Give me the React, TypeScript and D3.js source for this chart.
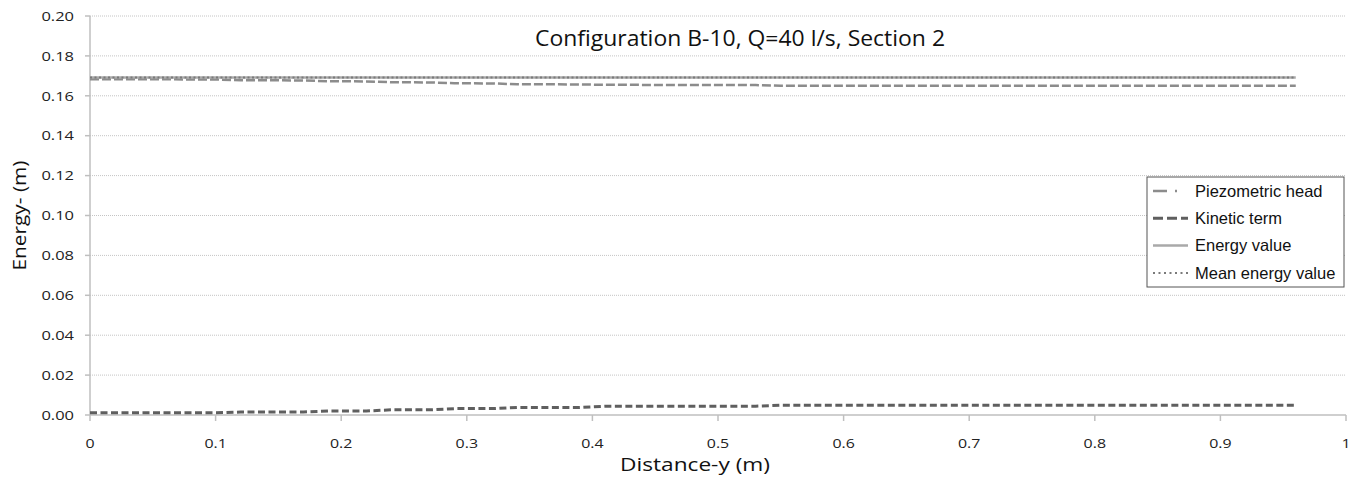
import React from 'react'
import * as d3 from 'd3'

// distance along the section (m)
const distance = [0, 0.1, 0.12, 0.17, 0.19, 0.22, 0.24, 0.27, 0.29, 0.32, 0.34, 0.39, 0.41, 0.53, 0.55, 0.96]
const piezometric = [0.1683, 0.1682, 0.1678, 0.1677, 0.1673, 0.1672, 0.1668, 0.1667, 0.1663, 0.1662, 0.1658, 0.1657, 0.1655, 0.1654, 0.165, 0.165]
const kinetic = [0.0011, 0.0011, 0.0015, 0.0015, 0.002, 0.002, 0.0026, 0.0026, 0.0032, 0.0032, 0.0038, 0.0038, 0.0044, 0.0044, 0.0049, 0.0049]
const energy = [0.1692, 0.1692, 0.1692, 0.1692, 0.1692, 0.1692, 0.1692, 0.1692, 0.1692, 0.1692, 0.1692, 0.1692, 0.1692, 0.1692, 0.1692, 0.1692]
const meanEnergy = 0.1692

const yTicks = [0, 0.02, 0.04, 0.06, 0.08, 0.1, 0.12, 0.14, 0.16, 0.18, 0.2]
const xTicks = [0, 0.1, 0.2, 0.3, 0.4, 0.5, 0.6, 0.7, 0.8, 0.9, 1]

const title = 'Configuration B-10, Q=40 l/s, Section 2'
const legendLabels = ['Piezometric head', 'Kinetic term', 'Energy value', 'Mean energy value']

const W = 1355
const H = 479
const labelFont = "'Open Sans', 'Noto Sans', sans-serif"

const styles = [
  { stroke: '#8c8c8c', width: 2.5, dash: '9,3' },
  { stroke: '#5f5f5f', width: 3, dash: '7,3.5' },
  { stroke: '#a9a9a9', width: 2.5, dash: '' },
  { stroke: '#7a7a7a', width: 2, dash: '2,2.5' },
]
const legendDash = ['14,8,2,20', '10,4', '', '2,3.5']

// text stretched horizontally like the picture's wide glyphs
function Wide(props: { x: number; y: number; sx: number; size: number; anchor?: string; children: React.ReactNode }) {
  return (
    <text
      transform={`translate(${props.x}, ${props.y}) scale(${props.sx}, 1)`}
      dy="0.35em"
      textAnchor={props.anchor ?? 'middle'}
      fontSize={props.size}
      fontFamily={labelFont}
      fill="#222"
    >
      {props.children}
    </text>
  )
}

function App() {
  const x = d3.scaleLinear().domain([0, 1]).range([90, 1346])
  const y = d3.scaleLinear().domain([0, 0.2]).range([415, 16])

  const line = d3
    .line<number>()
    .x((_, i) => x(distance[i]))
    .y((d) => y(d))

  const meanLine = d3
    .line<number>()
    .x((d) => x(d))
    .y(() => y(meanEnergy))

  const series = [piezometric, kinetic, energy]

  return (
    <svg width={W} height={H} style={{ position: 'absolute', left: 0, top: 0, background: '#fff' }}>
      {/* grid */}
      {yTicks.slice(1).map((t) => (
        <line key={t} x1={x(0)} x2={x(1)} y1={y(t)} y2={y(t)} stroke="#c4c4c4" strokeWidth={1} strokeDasharray="1,1" />
      ))}
      {/* axes */}
      <line x1={x(0)} x2={x(0)} y1={y(0.2)} y2={y(0)} stroke="#bfbfbf" strokeWidth={1.5} />
      <line x1={x(0)} x2={x(1)} y1={y(0)} y2={y(0)} stroke="#bfbfbf" strokeWidth={1.5} />
      {yTicks.map((t) => (
        <g key={t}>
          <line x1={x(0) - 5} x2={x(0)} y1={y(t)} y2={y(t)} stroke="#bfbfbf" strokeWidth={1.5} />
          <Wide x={74} y={y(t)} sx={1.22} size={13.5} anchor="end">
            {t.toFixed(2)}
          </Wide>
        </g>
      ))}
      {xTicks.map((t) => (
        <g key={t}>
          <line x1={x(t)} x2={x(t)} y1={y(0)} y2={y(0) + 6} stroke="#bfbfbf" strokeWidth={1.5} />
          <Wide x={x(t)} y={443} sx={1.18} size={13.5}>
            {t === 0 || t === 1 ? String(t) : t.toFixed(1)}
          </Wide>
        </g>
      ))}

      {/* series */}
      {series.map((s, i) => (
        <path
          key={i}
          d={line(s) ?? ''}
          fill="none"
          stroke={styles[i].stroke}
          strokeWidth={styles[i].width}
          strokeDasharray={styles[i].dash || undefined}
        />
      ))}
      <path
        d={meanLine([distance[0], distance[distance.length - 1]]) ?? ''}
        fill="none"
        stroke={styles[3].stroke}
        strokeWidth={styles[3].width}
        strokeDasharray={styles[3].dash}
      />

      {/* titles */}
      <text x={740} y={39} dy="0.35em" textAnchor="middle" fontSize={21} fontFamily={labelFont} fill="#111"
        textLength={410} lengthAdjust="spacingAndGlyphs">
        {title}
      </text>
      <text x={695} y={465} dy="0.35em" textAnchor="middle" fontSize={18} fontFamily={labelFont} fill="#111"
        textLength={150} lengthAdjust="spacingAndGlyphs">
        Distance-y (m)
      </text>
      <text
        transform={`translate(20, ${y(0.1)}) rotate(-90)`}
        dy="0.35em"
        textAnchor="middle"
        fontSize={18}
        fontFamily={labelFont}
        fill="#111"
        textLength={110}
        lengthAdjust="spacingAndGlyphs"
      >
        Energy- (m)
      </text>

      {/* legend */}
      <g transform="translate(1147, 177)">
        <rect width={197} height={110} fill="#fff" stroke="#555" strokeWidth={1} />
        {legendLabels.map((lab, i) => (
          <g key={lab} transform={`translate(0, ${14 + i * 27.3})`}>
            <line
              x1={6}
              x2={41}
              y1={0}
              y2={0}
              stroke={styles[i].stroke}
              strokeWidth={styles[i].width}
              strokeDasharray={legendDash[i] || undefined}
            />
            <text x={48} y={0} dy="0.35em" fontSize={16.5} fontFamily="'Liberation Sans', Arial, sans-serif" fill="#111">
              {lab}
            </text>
          </g>
        ))}
      </g>
    </svg>
  )
}

export default App
